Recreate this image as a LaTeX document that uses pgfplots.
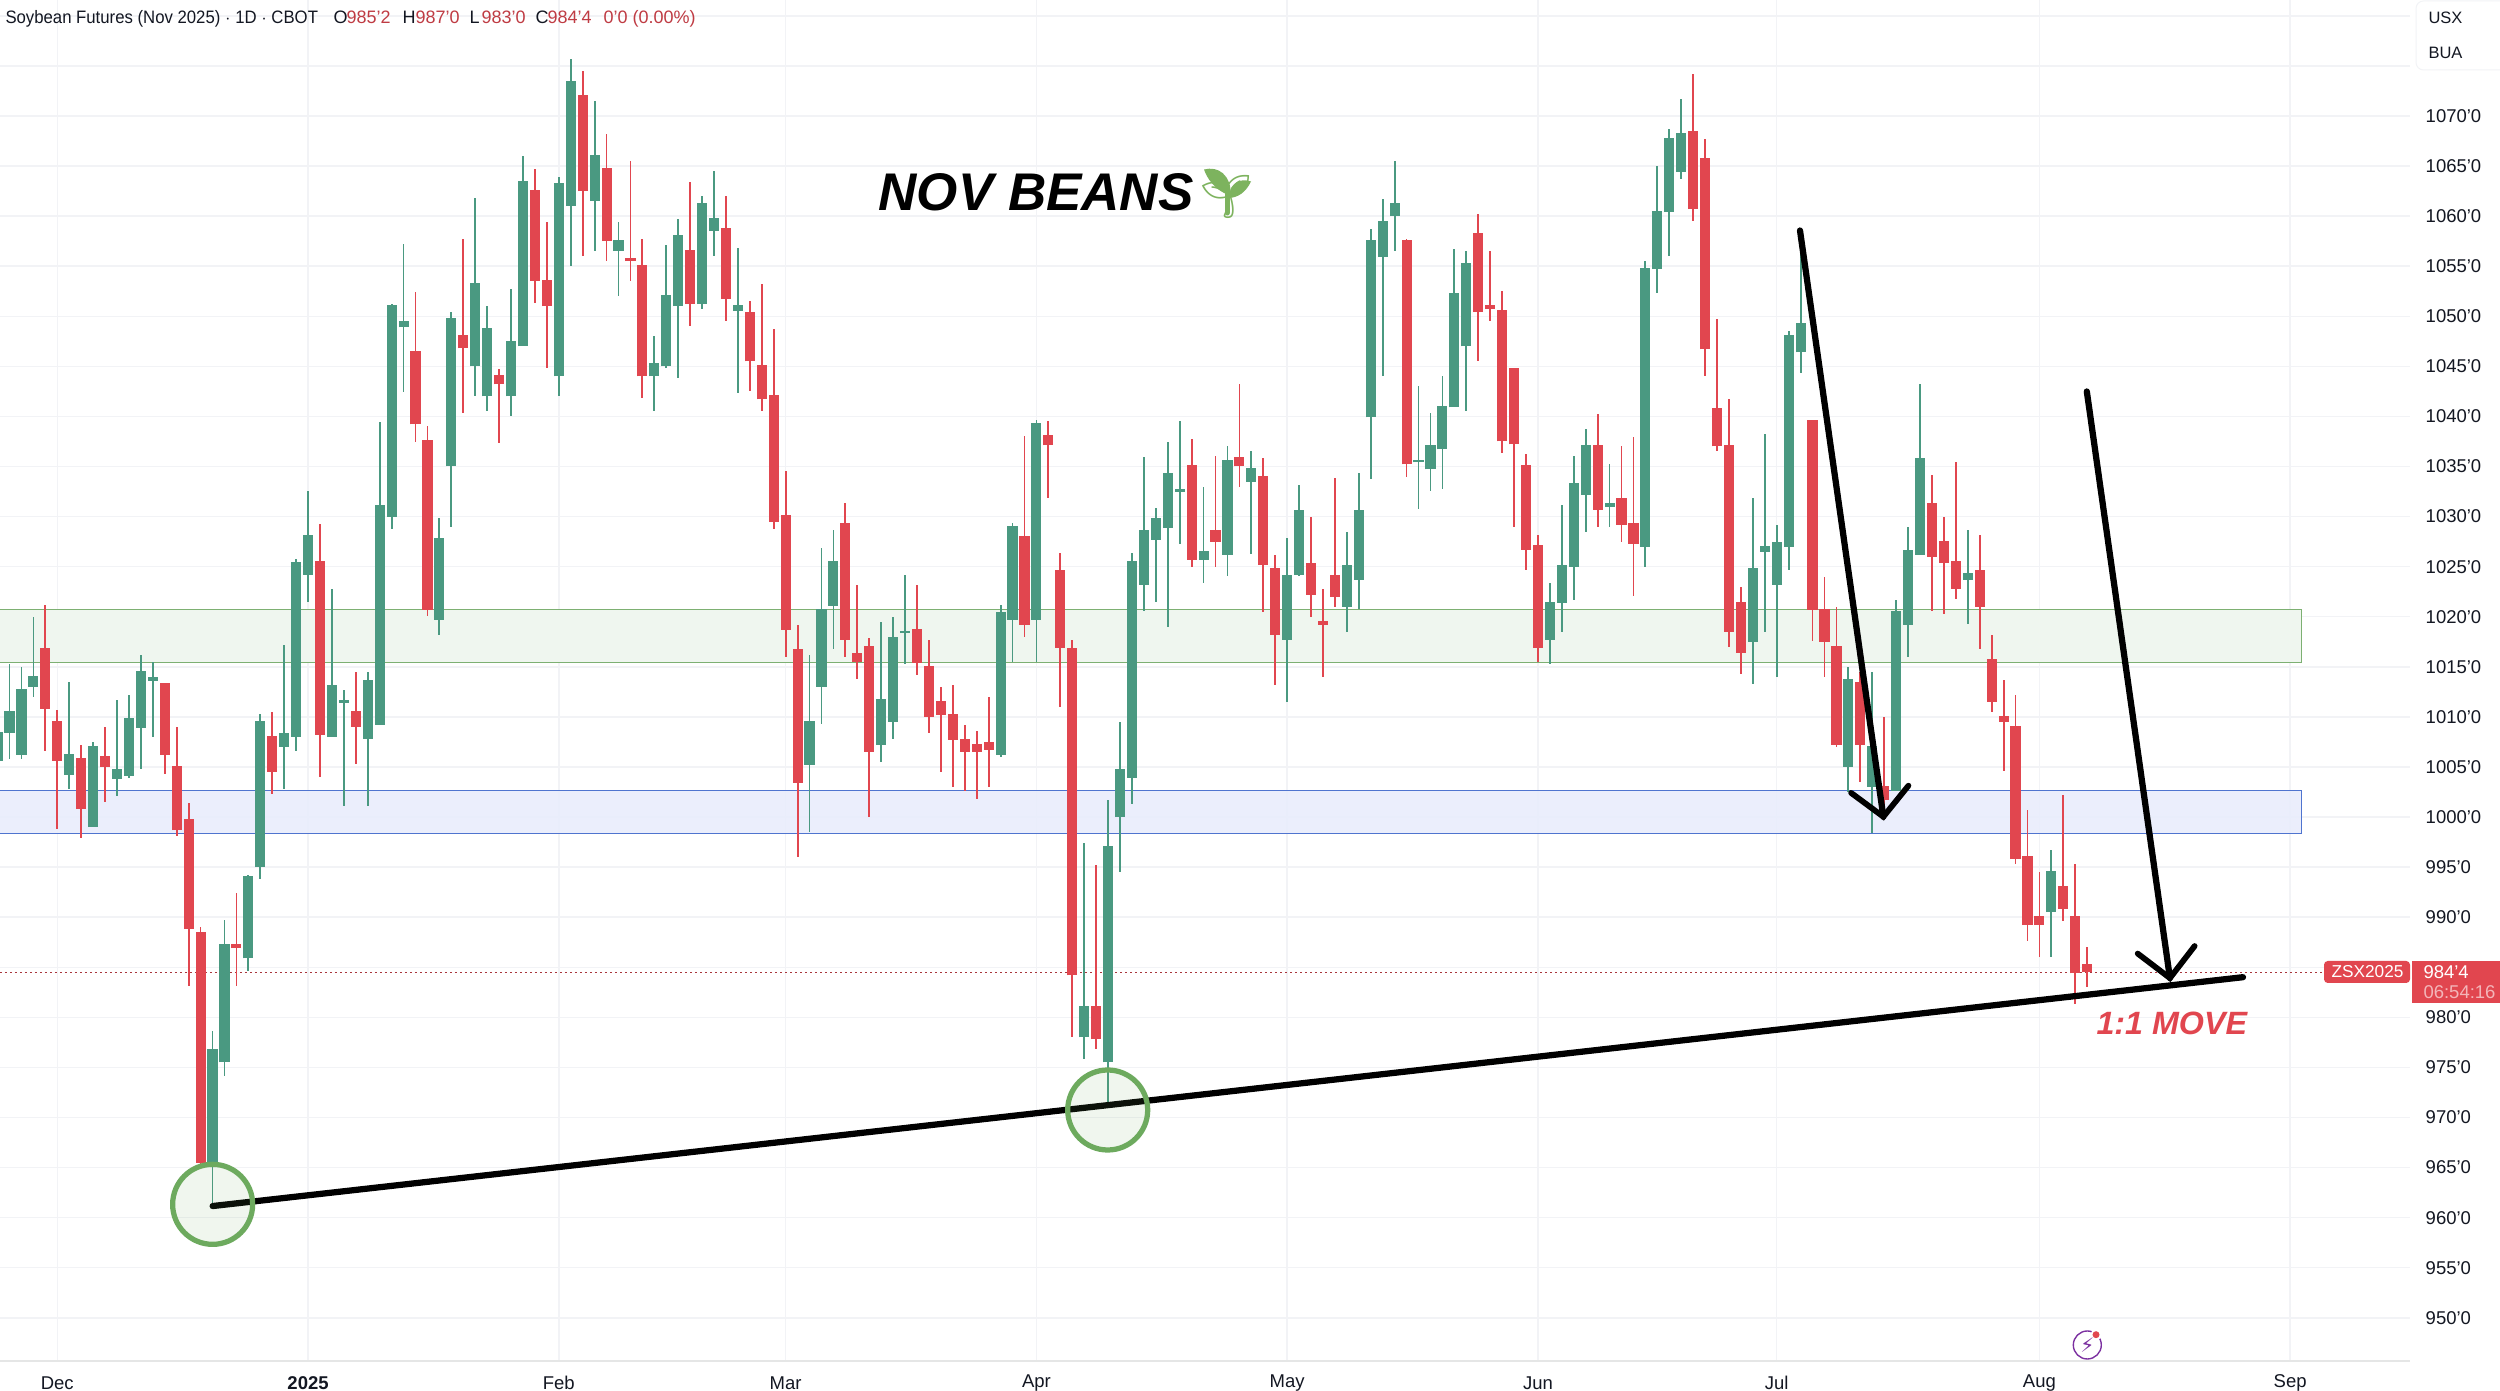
\documentclass[border=0pt]{standalone}
\usepackage{pgfplots}
\usepackage{pgfplotstable}
\usepackage{graphicx}
\usepackage{fontspec}
\pgfplotsset{compat=1.18}
\setmainfont{Liberation Sans}
\newfontfamily\emojifont{Noto Emoji}
\newfontfamily\symfont{DejaVu Sans}
\definecolor{up}{HTML}{4A9981}
\definecolor{down}{HTML}{E1464F}
\definecolor{gridc}{HTML}{F2F3F6}
\definecolor{ink}{HTML}{131722}
\definecolor{gzone}{HTML}{EFF6EF}
\definecolor{gedge}{HTML}{7DB072}
\definecolor{bzone}{HTML}{E9EDFC}
\definecolor{bedge}{HTML}{4F74CF}
\definecolor{ring}{HTML}{6DAA5E}
\definecolor{sprout}{HTML}{7DB35E}
\definecolor{bolt}{HTML}{7B2FA0}
\pgfplotstableread{
i H T B L
0 1009 1008.4 1005.6 1005
1 1015.3 1010.5 1008.4 1005.8
2 1015 1012.7 1006.2 1005.8
3 1020 1014 1013 1012
6 1013.5 1006.2 1004.2 1002.8
8 1007.5 1007 999 999
10 1011.7 1004.7 1003.8 1002.1
11 1012.2 1009.8 1004.1 1003.9
12 1016.2 1014.5 1008.9 1004.8
13 1015.5 1013.9 1013.6 1008
18 978.6 976.7 965.5 961.1
19 989.7 987.2 975.5 974.1
21 994.2 994 985.9 984.6
22 1010.3 1009.5 995 993.8
24 1017.2 1008.3 1007 1002.8
25 1025.8 1025.3 1008 1006.6
26 1032.6 1028 1024.2 1021.5
28 1022.8 1013.1 1008 1008
29 1012.7 1011.6 1011.4 1001.1
31 1014.5 1013.6 1007.8 1001.1
32 1039.4 1031 1009.2 1009.2
33 1051.2 1051 1030 1028.8
34 1057.2 1049.4 1048.9 1042.4
37 1029.9 1027.7 1019.7 1018.2
38 1050.4 1049.7 1035 1029
40 1061.8 1053.2 1045 1042
41 1051 1048.7 1042 1040.5
43 1052.7 1047.4 1042 1040
44 1066 1063.4 1047 1047
47 1063.9 1063.2 1044 1042
48 1075.7 1073.4 1061 1055
50 1071.5 1066 1061.5 1056.5
52 1059.4 1057.5 1056.5 1052
55 1048 1045.2 1044 1040.5
56 1057.1 1052 1045 1044.8
57 1059.7 1058 1051 1043.8
59 1062 1061.2 1051.2 1050.7
60 1064.5 1059.7 1058.5 1056
62 1056.8 1051 1050.5 1042.3
68 1016.2 1009.5 1005.2 998.5
69 1026.9 1020.7 1013 1009.3
70 1028.7 1025.4 1021.1 1016.8
74 1019.5 1011.7 1007.2 1005.5
75 1020 1017.9 1009.5 1007.8
76 1024.2 1018.5 1018.4 1015.3
84 1021.2 1020.4 1006.2 1006
85 1029.4 1028.9 1019.7 1015.5
87 1039.6 1039.2 1019.7 1015.5
91 997.4 981 978 975.8
93 1001.7 997 975.5 971.3
94 1009.5 1004.7 1000 994.5
95 1026.4 1025.4 1003.9 1001.3
96 1035.9 1028.5 1023.2 1020.6
97 1030.9 1029.7 1027.7 1021.5
98 1037.4 1034.2 1028.9 1019
99 1039.5 1032.6 1032.5 1027.3
101 1033 1026.4 1025.7 1023.4
103 1037 1035.5 1026.2 1024.1
105 1036.5 1034.7 1033.5 1026.3
108 1027.9 1024 1017.7 1011.5
109 1033.2 1030.5 1024.2 1024.1
113 1028.5 1025 1021 1018.5
114 1034.4 1030.5 1023.7 1020.8
115 1058.7 1057.5 1039.9 1033.8
116 1061.7 1059.4 1055.9 1044
117 1065.5 1061.2 1060 1056.5
119 1043 1035.5 1035.4 1030.8
120 1040.3 1037 1034.7 1032.6
121 1044 1040.9 1036.7 1032.8
122 1056.7 1052.2 1040.9 1040.9
123 1056.5 1055.2 1047 1040.5
130 1023.4 1021.4 1017.7 1015.3
131 1031.2 1025 1021.4 1018.5
132 1036 1033.2 1025 1021.7
133 1038.7 1037 1032.2 1028.5
135 1035.2 1031.2 1031 1029
138 1055.5 1054.7 1027 1025
139 1065 1060.4 1054.7 1052.3
140 1068.7 1067.7 1060.4 1056
141 1071.7 1068.2 1064.4 1063.7
147 1031.9 1024.7 1017.5 1013.3
148 1038.2 1026.9 1026.5 1018.5
149 1029.2 1027.3 1023.2 1014
150 1048.5 1048 1027 1024.7
151 1058.7 1049.2 1046.4 1044.3
155 1015 1013.7 1005 1002.5
157 1014.5 1007 1003 998.4
159 1021.7 1020.5 1002.6 1002.6
160 1029 1026.5 1019.2 1016
161 1043.2 1035.7 1026.2 1026.2
165 1028.7 1024.2 1023.7 1019.3
172 996.7 994.5 990.5 986
}\updata
\pgfplotstableread{
i H T B L
4 1021.2 1016.8 1010.8 1006.6
5 1010.7 1009.5 1005.6 998.8
7 1007.2 1005.8 1000.8 997.9
9 1009 1006 1005 1001.5
14 1013.3 1013.3 1006.2 1004.3
15 1009 1005 998.7 998.1
16 1001.4 999.7 988.8 983.1
17 989 988.4 965.5 965.4
20 992.4 987.2 986.9 983.1
23 1010.5 1008 1004.5 1002.3
27 1029.3 1025.4 1008.2 1004
30 1014.5 1010.5 1009 1005.3
35 1052.4 1046.4 1039.2 1037.4
36 1039 1037.5 1020.7 1020.1
39 1057.7 1048 1046.8 1040.3
42 1044.7 1044 1043.2 1037.3
45 1064.7 1062.5 1053.5 1051.3
46 1059.4 1053.5 1051 1044.8
49 1074.5 1072 1062.5 1056
51 1068.2 1064.7 1057.5 1055.5
53 1065.5 1055.7 1055.5 1053.5
54 1057.7 1055 1044 1041.8
58 1063.4 1056.5 1051.2 1049
61 1062 1058.7 1051.7 1049.5
63 1051.5 1050.3 1045.5 1042.5
64 1053.2 1045 1041.7 1040.5
65 1048.7 1042 1029.5 1028.8
66 1034.5 1030 1018.7 1016
67 1019.2 1016.7 1003.4 996
71 1031.4 1029.2 1017.7 1016
72 1023.2 1016.3 1015.5 1013.8
73 1017.9 1017 1006.5 1000
77 1023.2 1018.7 1015.4 1014.2
78 1017.7 1015 1010 1008.4
79 1013 1011.5 1010.2 1004.5
80 1013.2 1010.2 1007.7 1003
81 1009.2 1007.7 1006.5 1002.6
82 1008.6 1007.2 1006.5 1001.8
83 1012 1007.4 1006.7 1003
86 1038 1027.9 1019.2 1018
88 1039.5 1038 1037.1 1031.9
89 1026.4 1024.5 1016.9 1011
90 1017.7 1016.8 984.2 978
92 995.2 981 977.8 976.8
100 1037.7 1035 1025.7 1025
102 1036 1028.5 1027.5 1025
104 1043.2 1035.8 1035 1033
106 1035.8 1033.9 1025.2 1020.5
107 1026.2 1024.7 1018.2 1013.2
110 1030 1025.2 1022.2 1020
111 1022.8 1019.5 1019.2 1014
112 1033.9 1024 1022 1021
118 1057.7 1057.5 1035.2 1034
124 1060.2 1058.2 1050.4 1045.5
125 1056.5 1051 1050.7 1049.5
126 1052.5 1050.5 1037.5 1036.3
127 1044.7 1044.7 1037.2 1029
128 1036.2 1035 1026.7 1024.7
129 1028.2 1027 1016.9 1015.5
134 1040.2 1037 1030.7 1029
136 1037 1031.7 1029.2 1027.5
137 1037.9 1029.2 1027.3 1022.1
142 1074.2 1068.4 1060.7 1059.5
143 1067.7 1065.7 1046.7 1044
144 1049.7 1040.7 1037 1036.5
145 1041.7 1037 1018.5 1017
146 1023 1021.4 1016.4 1014.3
152 1039.5 1039.5 1020.7 1017.6
153 1024 1020.7 1017.5 1014
154 1021 1017 1007.2 1007
156 1014.5 1013.4 1007.2 1003.5
158 1010 1003 1001.7 1000.2
162 1034.2 1031.2 1026 1020.6
163 1030 1027.4 1025.4 1020.3
164 1035.4 1025.4 1022.8 1021.8
166 1028.2 1024.5 1021 1016.8
167 1018.2 1015.7 1011.5 1010.5
168 1013.7 1010 1009.5 1004.6
169 1012.2 1009 995.8 995.3
170 1000.7 996 989.2 987.6
171 994.5 990 989.2 986
173 1002.2 993 990.8 989.6
174 995.3 990 984.4 981.3
175 987 985.25 984.5 983
}\downdata
\newcommand{\candles}[2]{%
  \addplot[forget plot, draw=none, mark=none,
    error bars/.cd, y dir=both, y explicit, error mark=none,
    error bar style={line width=0.72pt, color=#2}]
    table[x=i, y=T, y error plus expr=\thisrow{H}-\thisrow{T}, y error minus expr=\thisrow{T}-\thisrow{L}] {#1};
  \addplot[forget plot, draw=none, mark=none,
    error bars/.cd, y dir=both, y explicit, error mark=none,
    error bar style={line width=4.05pt, color=#2}]
    table[x=i, y=B, y error plus expr=\thisrow{T}-\thisrow{B}+0.12, y error minus expr=0] {#1};
}
\begin{document}
\begin{tikzpicture}[x=0.4pt,y=0.4pt]
\useasboundingbox (0,0) rectangle (2500,1391);
\fill[white] (0,0) rectangle (2500,1391);
\begin{axis}[
  at={(0,12pt)},
  anchor=south west,
  scale only axis, width=964pt, height=544.4pt,
  xmin=0.201, xmax=202.04, ymin=945.69, ymax=1081.58,
  clip=true,
  axis y line*=right, axis x line*=bottom,
  y axis line style={draw=none},
  x axis line style={draw=gridc!70!black!30!white, line width=0.6pt, -},
  grid=major, major grid style={draw=gridc, line width=0.6pt},
  tick style={draw=none},
  major tick length=0pt,
  xtick={5,26,47,66,87,108,129,149,171,192},
  xticklabels={Dec,\textbf{2025},Feb,Mar,Apr,May,Jun,Jul,Aug,Sep},
  ytick={950,955,960,965,970,975,980,985,990,995,1000,1005,1010,1015,1020,1025,1030,1035,1040,1045,1050,1055,1060,1065,1070,1075,1080},
  yticklabels={950'0,955'0,960'0,965'0,970'0,975'0,980'0,,990'0,995'0,1000'0,1005'0,1010'0,1015'0,1020'0,1025'0,1030'0,1035'0,1040'0,1045'0,1050'0,1055'0,1060'0,1065'0,1070'0,,},
  yticklabel style={anchor=west, xshift=2.74pt, font=\fontsize{7.4}{9}\selectfont, text=ink},
  xticklabel style={anchor=center, yshift=-8.9pt, font=\fontsize{7.4}{9}\selectfont, text=ink},
]
% zones
\addplot[forget plot, fill=gzone, draw=gedge, line width=0.5pt] coordinates {(-5,1020.73)(192.96,1020.73)(192.96,1015.43)(-5,1015.43)} --cycle;
\addplot[forget plot, fill=bzone, fill opacity=0.9, draw=bedge, line width=0.5pt] coordinates {(-5,1002.64)(192.96,1002.64)(192.96,998.36)(-5,998.36)} --cycle;
% last price line
\addplot[forget plot, draw=down!75!black, line width=0.4pt, dash pattern=on 0.8pt off 1.2pt] coordinates {(0.2,984.5)(196.5,984.5)};
% candles
\candles{\updata}{up}
\candles{\downdata}{down}
% circles
\addplot[forget plot, only marks, mark=*, mark size=16pt, mark options={draw=ring, line width=2.1pt, fill=ring, fill opacity=0.1}] coordinates {(18.01,961.33)(92.97,970.75)};
% trendline and arrows
\addplot[forget plot, black, line width=2.5pt, line cap=round] coordinates {(18.01,961.16)(188.05,984.01)};
\addplot[forget plot, black, line width=2.5pt, line cap=round, line join=round] coordinates {(150.95,1058.56)(157.93,1000.03)};
\addplot[forget plot, black, line width=2.3pt, line cap=round, line join=miter] coordinates {(155.23,1002.41)(157.93,1000.03)(160.03,1003.13)};
\addplot[forget plot, black, line width=2.5pt, line cap=round] coordinates {(174.97,1042.49)(181.93,983.92)};
\addplot[forget plot, black, line width=2.3pt, line cap=round, line join=miter] coordinates {(179.23,986.37)(181.93,983.92)(184,987.12)};
\end{axis}
% header
\begin{scope}[every node/.style={inner sep=0pt, anchor=base west, font=\fontsize{7.2}{9}\selectfont, text=ink}]
\node at (5,1391-24) {\scalebox{0.93}[1]{Soybean Futures (Nov 2025) $\cdot$ 1D $\cdot$ CBOT}};
\node at (333,1391-24) {O};
\node[text=down!85!black] at (346,1391-24) {985'2};
\node at (402,1391-24) {H};
\node[text=down!85!black] at (415,1391-24) {987'0};
\node at (469,1391-24) {L};
\node[text=down!85!black] at (481,1391-24) {983'0};
\node at (535,1391-24) {C};
\node[text=down!85!black] at (547,1391-24) {984'4};
\node[text=down!85!black] at (603,1391-24) {0'0 (0.00\%)};
\end{scope}
% scale badges
\draw[gridc, line width=0.4pt, rounded corners=3pt] (2600,1390) -- (2416,1390) -- (2416,1321) -- (2600,1321);
\node[inner sep=0pt, anchor=base west, font=\fontsize{6.6}{8}\selectfont, text=ink] at (2428,1391-24) {USX};
\node[inner sep=0pt, anchor=base west, font=\fontsize{6.6}{8}\selectfont, text=ink] at (2428,1391-59) {BUA};
% titles
\node[inner sep=0pt, anchor=base west, font=\fontsize{21.2}{24}\selectfont\bfseries\itshape] at (878,1391-211) {NOV BEANS};
% seedling: filled shape under the emoji glyph
\fill[sprout] (1204,1391-169.5) .. controls (1218,1391-166) and (1231,1391-174) .. (1231,1391-196) .. controls (1222,1391-193) and (1210,1391-186) .. cycle;
\fill[sprout] (1251,1391-181.5) .. controls (1240,1391-178) and (1231,1391-182) .. (1228,1391-198) .. controls (1238,1391-198) and (1246,1391-192) .. cycle;
\draw[sprout, line width=2pt, line cap=round] (1227,1391-213) -- (1227,1391-192);
\node[inner sep=0pt, anchor=base west, font=\fontsize{17}{20}\selectfont\emojifont, text=sprout] at (1198,1391-212) {🌱};
\node[inner sep=0pt, anchor=base west, font=\fontsize{12.9}{15}\selectfont\bfseries\itshape, text=down] at (2096,1391-1034.5) {1:1 MOVE};
% price tags
\fill[down, rounded corners=1.5pt] (2324,1391-983) rectangle (2410,1391-961);
\fill[down] (2412,1391-1003) rectangle (2500,1391-961);
\node[inner sep=0pt, anchor=west, font=\fontsize{6.9}{8}\selectfont, text=white] at (2331,1391-972) {ZSX2025};
\node[inner sep=0pt, anchor=west, font=\fontsize{7.4}{9}\selectfont, text=white] at (2423,1391-972) {984'4};
\node[inner sep=0pt, anchor=west, font=\fontsize{7.4}{9}\selectfont, text=white!60!down] at (2423,1391-992) {06:54:16};
% lightning badge
\draw[bolt, line width=0.55pt] (2087.3,1391-1345) circle [radius=5.6pt];
\fill[white] (2096,1391-1334.7) circle [radius=2.2pt];
\fill[down] (2096,1391-1334.7) circle [radius=1.4pt];
\node[inner sep=0pt, font=\fontsize{8}{9}\selectfont\symfont, text=bolt] at (2087.3,1391-1345) {⚡};
\end{tikzpicture}
\end{document}
